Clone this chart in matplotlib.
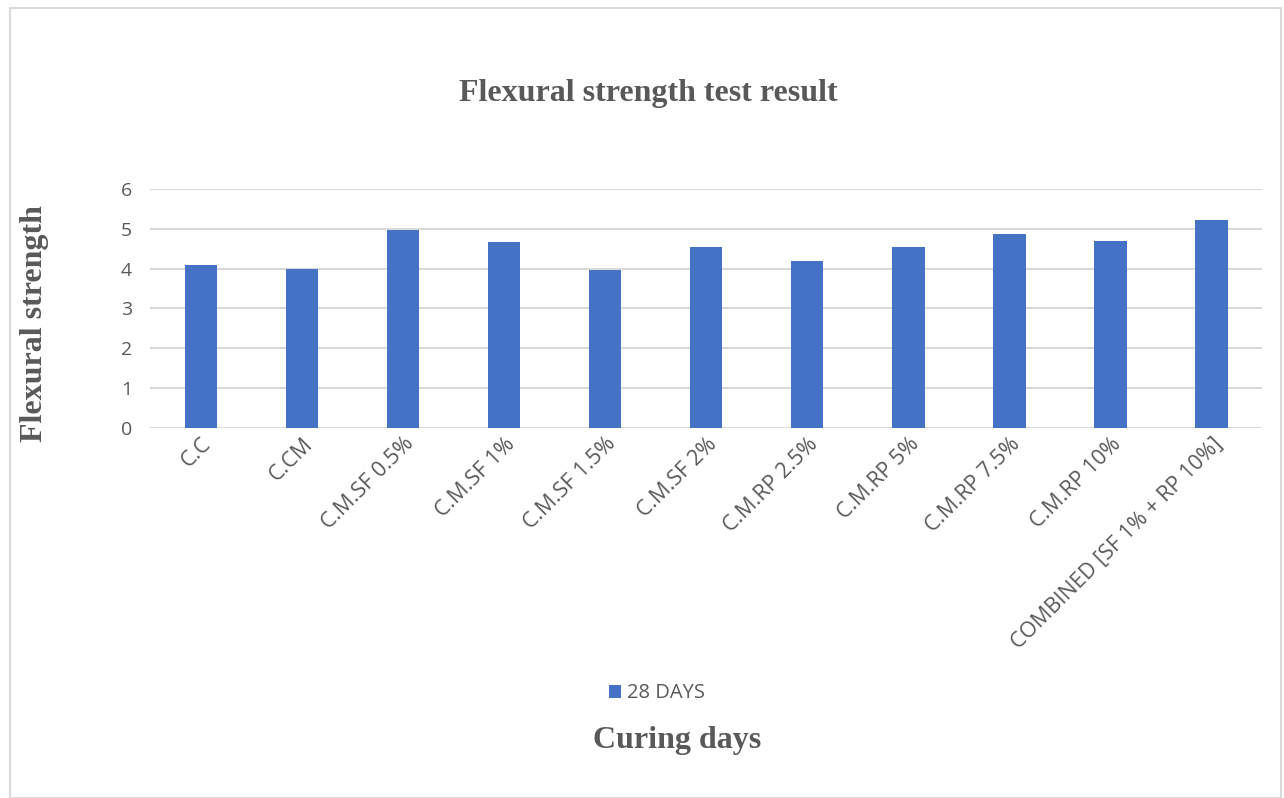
import numpy as np
import matplotlib.pyplot as plt
from matplotlib.patches import Rectangle

categories = ["C.C", "C.CM", "C.M.SF 0.5%", "C.M.SF 1%", "C.M.SF 1.5%", "C.M.SF 2%",
              "C.M.RP 2.5%", "C.M.RP 5%", "C.M.RP 7.5%", "C.M.RP 10%",
              "COMBINED [SF 1% + RP 10%]"]
days28 = [4.10, 3.98, 4.97, 4.66, 3.97, 4.54, 4.20, 4.55, 4.88, 4.69, 5.23]
yticks = [0, 1, 2, 3, 4, 5, 6]

grey = "#595959"
fig = plt.figure(figsize=(12.84, 7.98), dpi=100)
ax = fig.add_axes([0.117, 0.4637, 0.866, 0.2995])

x = np.arange(len(categories))
ax.bar(x, days28, width=0.32, color="#4472C4", label="28 DAYS", zorder=3)

ax.set_ylim(0, 6)
ax.set_xlim(-0.5, len(categories) - 0.5)
ax.set_yticks(yticks)
ax.yaxis.grid(True, color="#d9d9d9", linewidth=1.5, zorder=0)
for s in ax.spines.values():
    s.set_visible(False)
ax.tick_params(axis="both", length=0, colors=grey)
ax.tick_params(axis="y", pad=13, labelsize=14)
ax.tick_params(axis="x", pad=4, labelsize=15.5)
ax.set_xticks(x)
ax.set_xticklabels(categories, rotation=45, ha="right", rotation_mode="anchor",
                   fontfamily="Open Sans", color=grey)
for lab in ax.get_yticklabels():
    lab.set_fontfamily("Open Sans")

fig.text(0.505, 0.883, "Flexural strength test result", ha="center", va="center",
         fontfamily="Liberation Serif", fontweight="bold", fontsize=23, color=grey)
fig.text(0.027, 0.595, "Flexural strength", ha="center", va="center", rotation=90,
         fontfamily="Liberation Serif", fontweight="bold", fontsize=23, color=grey)
fig.text(0.527, 0.072, "Curing days", ha="center", va="center",
         fontfamily="Liberation Serif", fontweight="bold", fontsize=23, color=grey)

leg = fig.legend(loc="center", bbox_to_anchor=(0.512, 0.131), frameon=False,
                 handlelength=0.6, handleheight=0.6, handletextpad=0.3,
                 prop={"family": "Open Sans", "size": 14.5})
for t in leg.get_texts():
    t.set_color(grey)

fig.patches.append(Rectangle((0.008, 0.0), 0.99, 0.99, transform=fig.transFigure,
                             fill=False, edgecolor="#d9d9d9", linewidth=1.5))

fig.savefig("out.png", dpi=100)
